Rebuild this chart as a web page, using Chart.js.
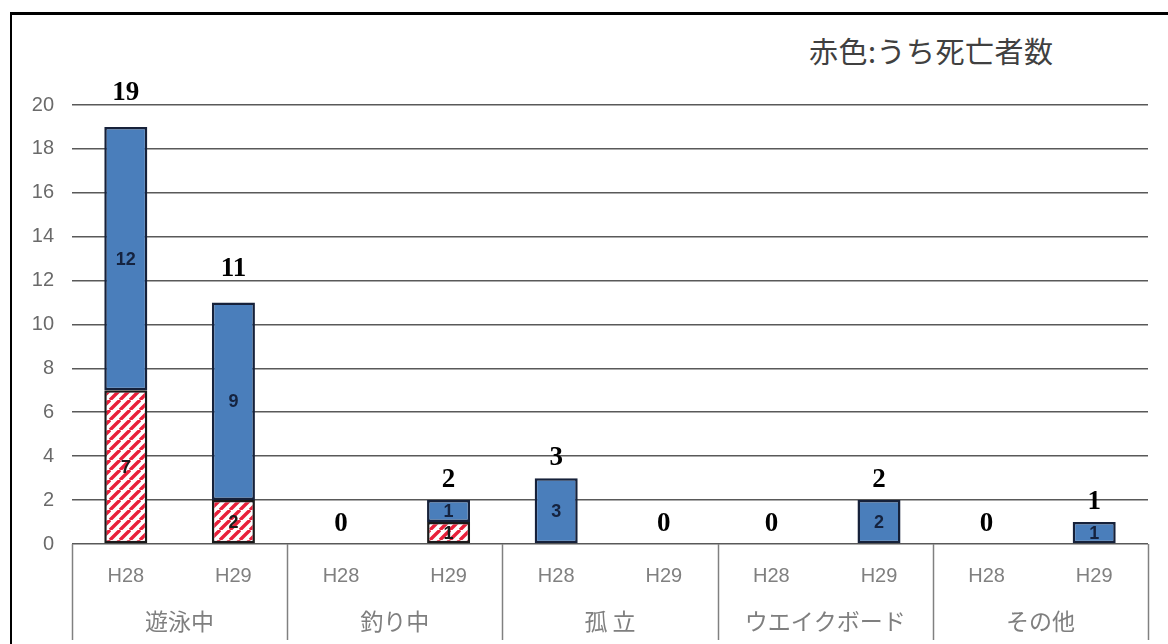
<!DOCTYPE html>
<html lang="ja">
<head>
<meta charset="utf-8">
<script src="https://cdn.jsdelivr.net/npm/chart.js@4/dist/chart.umd.min.js"></script>
<style>
  html, body { margin: 0; padding: 0; background: #fff; }
  #wrap { position: relative; width: 1168px; height: 644px; overflow: hidden; }
  #frame { position: absolute; left: 10px; top: 12px; width: 1170px; height: 660px;
           border-top: 3px solid #000; border-left: 2px solid #000; box-sizing: border-box; }
  #note { position: absolute; left: 809px; top: 29px; font: 29px "Noto Sans CJK JP", sans-serif;
          letter-spacing: 0.5px; color: #404040; }
  canvas { position: absolute; left: 0; top: 0; }
</style>
</head>
<body>
<div id="wrap">
  <div id="frame"></div>
  <div id="note">赤色:うち死亡者数</div>
  <canvas id="c" width="1168" height="644"></canvas>
</div>
<script>
const years = ["H28", "H29", "H28", "H29", "H28", "H29", "H28", "H29", "H28", "H29"];
const groups = ["遊泳中", "釣り中", "孤 立", "ウエイクボード", "その他"];
const deaths = [7, 2, 0, 1, 0, 0, 0, 0, 0, 0];
const survivors = [12, 9, 0, 1, 3, 0, 0, 2, 0, 1];
const yTicks = [0, 2, 4, 6, 8, 10, 12, 14, 16, 18, 20];

function hatch() {
  const s = 10;
  const c = document.createElement("canvas");
  c.width = s;
  c.height = s;
  const g = c.getContext("2d");
  g.fillStyle = "#fff";
  g.fillRect(0, 0, s, s);
  g.strokeStyle = "#e8203a";
  g.lineWidth = 3.4;
  g.beginPath();
  for (let k = -1; k <= 1; k++) {
    g.moveTo(k * s, s);
    g.lineTo(k * s + s, 0);
  }
  g.stroke();
  return g.createPattern(c, "repeat");
}

const labels = {
  id: "labels",
  afterDatasetsDraw(chart) {
    const ctx = chart.ctx;
    const y = chart.scales.y;
    ctx.save();
    ctx.textAlign = "center";
    ctx.textBaseline = "middle";
    // segment values
    chart.data.datasets.forEach((ds, di) => {
      const meta = chart.getDatasetMeta(di);
      meta.data.forEach((bar, i) => {
        if (!ds.data[i]) return;
        ctx.font = "bold 18px 'Liberation Sans', sans-serif";
        ctx.fillStyle = di === 0 ? "#1a1a1a" : "#15233f";
        ctx.fillText(ds.data[i], bar.x, (bar.y + bar.base) / 2 + 1);
      });
    });
    // totals
    ctx.font = "bold 27px 'Liberation Serif', serif";
    ctx.fillStyle = "#000";
    const m = chart.getDatasetMeta(0);
    years.forEach((_, i) => {
      const tot = deaths[i] + survivors[i];
      const top = y.getPixelForValue(tot);
      ctx.fillText(String(tot), m.data[i].x, top - (tot > 5 ? 34 : 20));
    });
    ctx.restore();
  },
  afterDraw(chart) {
    const ctx = chart.ctx;
    const x = chart.scales.x;
    const a = chart.chartArea;
    ctx.save();
    ctx.strokeStyle = "#808080";
    ctx.lineWidth = 1.5;
    const edges = [a.left];
    for (let g = 1; g < groups.length; g++) {
      edges.push((x.getPixelForValue(2 * g - 1) + x.getPixelForValue(2 * g)) / 2);
    }
    edges.push(a.right);
    edges.forEach((px) => {
      ctx.beginPath();
      ctx.moveTo(Math.round(px) + 0.5, a.bottom);
      ctx.lineTo(Math.round(px) + 0.5, a.bottom + 96);
      ctx.stroke();
    });
    ctx.font = "23px 'Noto Sans CJK JP', sans-serif";
    ctx.fillStyle = "#7f7f7f";
    ctx.textAlign = "center";
    ctx.textBaseline = "middle";
    groups.forEach((name, g) => {
      const cx = (x.getPixelForValue(2 * g) + x.getPixelForValue(2 * g + 1)) / 2;
      ctx.fillText(name, cx, a.bottom + 77);
    });
    ctx.restore();
  },
};

new Chart(document.getElementById("c"), {
  type: "bar",
  data: {
    labels: years,
    datasets: [
      {
        label: "死亡者",
        data: deaths,
        backgroundColor: hatch(),
        borderColor: "#1a1a1a",
        borderWidth: 2.5,
        borderSkipped: false,
      },
      {
        label: "生存者",
        data: survivors,
        backgroundColor: "#4a7ebb",
        borderColor: "#16213a",
        borderWidth: 2.5,
        borderSkipped: false,
      },
    ],
  },
  options: {
    responsive: false,
    animation: false,
    events: [],
    layout: { padding: { top: 105, right: 20, left: 0, bottom: 0 } },
    plugins: { legend: { display: false }, tooltip: { enabled: false } },
    datasets: { bar: { categoryPercentage: 1, barPercentage: 0.4 } },
    scales: {
      x: {
        stacked: true,
        grid: { display: false, drawTicks: false },
        border: { display: false },
        ticks: { color: "#808080", font: { size: 20, family: "'Liberation Sans', sans-serif" }, padding: 20, maxRotation: 0 },
        afterFit(s) { s.height = 100; },
      },
      y: {
        stacked: true,
        min: 0,
        max: 20,
        afterBuildTicks(s) { s.ticks = yTicks.map((v) => ({ value: v })); },
        grid: { color: "#595959", lineWidth: 1.6, drawTicks: false },
        border: { display: false },
        ticks: { color: "#6a6a6a", font: { size: 20, family: "'Liberation Sans', sans-serif" }, padding: 18 },
        afterFit(s) { s.width = 72; },
      },
    },
  },
  plugins: [labels],
});
</script>
</body>
</html>
